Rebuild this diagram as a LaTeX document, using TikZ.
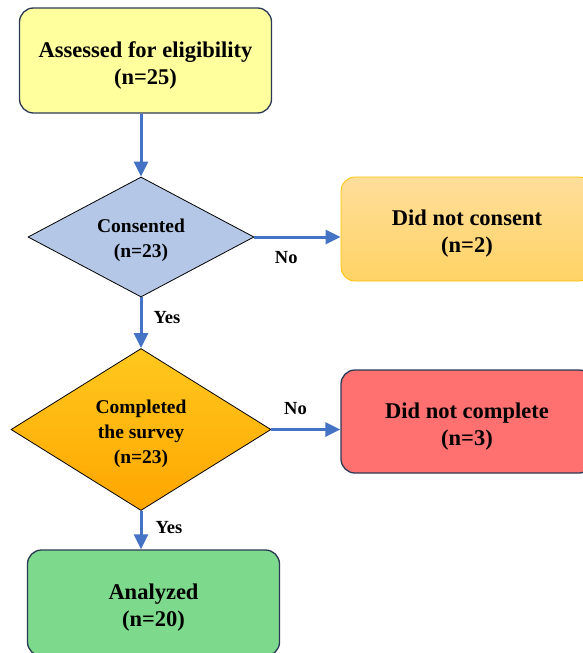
\documentclass[tikz,border=0pt]{standalone}
\usepackage{fontspec}
\setmainfont{Liberation Serif}
\usepackage{xcolor}
\definecolor{fcBlue}{RGB}{68,114,196}
\definecolor{fcNavy}{RGB}{44,57,86}
\definecolor{fcLemon}{RGB}{255,255,158}
\definecolor{fcSky}{RGB}{180,199,231}
\definecolor{fcPeachTop}{RGB}{255,222,155}
\definecolor{fcPeachBot}{RGB}{255,211,100}
\definecolor{fcGold}{RGB}{255,192,0}
\definecolor{fcGoldTop}{RGB}{255,200,30}
\definecolor{fcGoldBot}{RGB}{255,166,0}
\definecolor{fcCoral}{RGB}{255,113,113}
\definecolor{fcMint}{RGB}{125,217,139}
\usepackage{tikz}
\usetikzlibrary{positioning,arrows.meta,shapes.geometric}

\begin{document}
\begin{tikzpicture}[x=1pt,y=-1pt,
  flow/.style={draw=fcNavy,line width=1.3pt,rounded corners=14pt,minimum width=252pt,minimum height=105pt,align=center,inner sep=0pt,text height=47.5pt,text depth=0pt,font=\fontsize{22.5}{27}\selectfont\bfseries},
  dec/.style={diamond,draw=black,line width=0.8pt,inner sep=0pt,align=center,text height=40.5pt,text depth=0pt,font=\fontsize{19.5}{25}\selectfont\bfseries},
  arr/.style={-{Triangle[length=15pt,width=14pt]},fcBlue,line width=3pt},
  lab/.style={inner sep=0pt,black,font=\fontsize{18.5}{22}\selectfont\bfseries}]
  \useasboundingbox (0,0) rectangle (583,653);
  \node[flow,fill=fcLemon] (elig) at (145.5,60.5) {Assessed for eligibility\\(n=25)};
  \node[dec,fill=fcSky,minimum width=226pt,minimum height=120pt,aspect=1.9] (cons) at (141,237) {Consented\\(n=23)};
  \node[flow,draw=fcGold,line width=0.8pt,top color=fcPeachTop,bottom color=fcPeachBot,minimum height=104pt] (nocons) at (467,229) {Did not consent\\(n=2)};
  \node[dec,top color=fcGoldTop,bottom color=fcGoldBot,minimum width=260pt,minimum height=162pt,aspect=1.6,text height=68.5pt] (surv) at (141,429.5) {Completed\\the survey\\(n=23)};
  \node[flow,fill=fcCoral,minimum height=103pt] (nocomp) at (467,421.5) {Did not complete\\(n=3)};
  \node[flow,fill=fcMint,minimum height=106pt] (done) at (153.5,603) {Analyzed\\(n=20)};

  \draw[arr] (elig.south -| cons.north) -- (cons.north);
  \draw[arr] (cons.east) -- (cons.east -| nocons.west) node[lab,pos=.37,below=12.5pt] {No};
  \draw[arr] (cons.south) -- (surv.north) node[lab,pos=.39,right=11pt] {Yes};
  \draw[arr] (surv.east) -- (surv.east -| nocomp.west) node[lab,pos=.35,above=13.5pt] {No};
  \draw[arr] (surv.south) -- (surv.south |- done.north) node[lab,pos=.43,right=13pt] {Yes};
\end{tikzpicture}
\end{document}
